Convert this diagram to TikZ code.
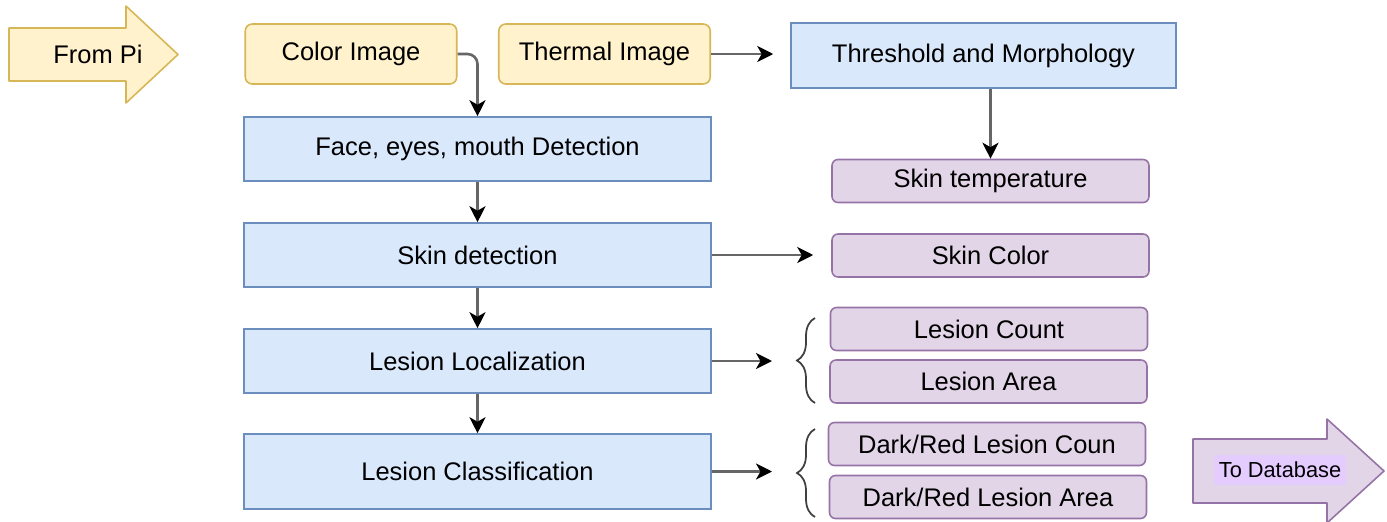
\documentclass[tikz,border=0pt]{standalone}
\usepackage{fontspec}
\setmainfont{Liberation Sans}
\usetikzlibrary{arrows.meta,decorations.pathreplacing}

\definecolor{yelfill}{HTML}{FFF2CC}
\definecolor{yeldraw}{HTML}{D6B656}
\definecolor{blufill}{HTML}{DAE8FC}
\definecolor{bludraw}{HTML}{6C8EBF}
\definecolor{purfill}{HTML}{E1D5E7}
\definecolor{purdraw}{HTML}{9673A6}
\definecolor{hilite}{HTML}{E5CCFF}

\begin{document}
\begin{tikzpicture}[x=0.02cm,y=-0.02cm,
    yelbox/.style={draw=yeldraw,fill=yelfill,line width=0.9pt,rounded corners=0.14cm,minimum width=4.23cm,minimum height=1.2cm},
    blubox/.style={draw=bludraw,fill=blufill,line width=0.9pt,minimum width=9.34cm,minimum height=1.28cm},
    purbox/.style={draw=purdraw,fill=purfill,line width=0.9pt,rounded corners=0.12cm,minimum width=6.34cm,minimum height=0.86cm},
    conn/.style={draw=black!60,line width=1.5pt,-{Stealth[length=0.32cm,width=0.32cm,inset=0.09cm,color=black]}},
    brc/.style={draw=black!75,line width=1pt,decorate,decoration={brace,amplitude=0.36cm}}]
    \tikzstyle{every node}+=[inner sep=0pt,font=\fontsize{14.5}{17}\selectfont]
    \useasboundingbox (0,0) rectangle (1387,521);
    % input arrow
    \draw [draw=yeldraw,fill=yelfill,line width=0.9pt,line join=round] (9,28) -- (126,28) -- (126,6) -- (178,54.5) -- (126,103) -- (126,81) -- (9,81) -- cycle;
    \node (frompi) at (98,54.5) {From Pi};
    % images
    \node [yelbox] (colimg) at (351,54) {Color Image};
    \node [yelbox] (thermimg) at (604.5,54) {Thermal Image};
    \node [blubox,minimum width=7.7cm,minimum height=1.3cm] (thresh) at (983.5,55.5) {Threshold and Morphology};
    \node [purbox] (skintemp) at (990.5,181) {Skin temperature};
    % main chain
    \node [blubox] (face) at (477.5,149) {Face, eyes, mouth Detection};
    \node [blubox] (skindet) at (477.5,255) {Skin detection};
    \node [blubox] (lesloc) at (477.5,361) {Lesion Localization};
    \node [blubox,minimum height=1.5cm] (lescls) at (477.5,471.5) {Lesion Classification};
    % results
    \node [purbox] (skincol) at (990.5,255.5) {Skin Color};
    \node [purbox] (lescount) at (989,329) {Lesion Count};
    \node [purbox] (lesarea) at (988.5,381.5) {Lesion Area};
    \node [purbox] (drcount) at (987,444) {Dark/Red Lesion Coun};
    \node [purbox] (drarea) at (988,497) {Dark/Red Lesion Area};
    % braces
    \draw [brc] (815,403) -- (815,318);
    \draw [brc] (815,517) -- (815,429);
    \coordinate (braceA) at (797,361);
    \coordinate (braceB) at (797,471.5);
    % output arrow
    \draw [draw=purdraw,fill=purfill,line width=0.9pt,line join=round] (1193,439) -- (1327,439) -- (1327,419) -- (1384,471) -- (1327,523) -- (1327,503) -- (1193,503) -- cycle;
    \node [fill=hilite,minimum width=2.66cm,minimum height=0.6cm,font=\fontsize{12.4}{15}\selectfont] (todb) at (1280,470) {To Database};
    % connectors
    \draw [conn,rounded corners=0.2cm] (colimg.east) -| (face.north);
    \draw [conn] (face) -- (skindet);
    \draw [conn] (skindet) -- (lesloc);
    \draw [conn] (lesloc) -- (lescls);
    \draw [conn,shorten >=0.34cm] (thermimg.east) -- (thermimg.east -| thresh.west);
    \draw [conn] (thresh.south -| skintemp.north) -- (skintemp.north);
    \draw [conn,shorten >=0.36cm] (skindet.east) -- (skindet.east -| skincol.west);
    \draw [conn,shorten >=0.5cm] (lesloc.east) -- (braceA);
    \draw [conn,shorten >=0.5cm] (lescls.east) -- (braceB);
\end{tikzpicture}
\end{document}
